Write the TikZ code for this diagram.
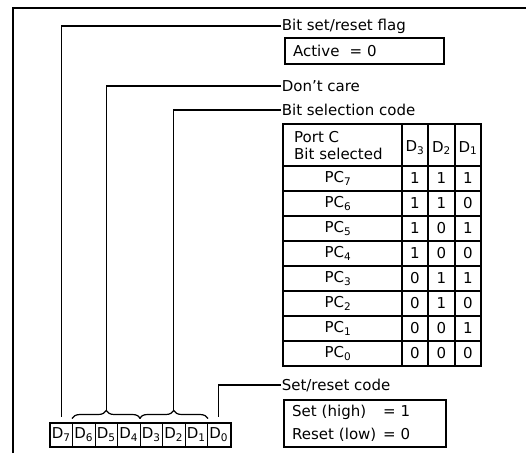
\documentclass[tikz,border=0pt]{standalone}
\usepackage{fontspec}
\setmainfont{DejaVu Sans}
\usepackage{tikz}
\usetikzlibrary{
  calc,
  decorations.pathreplacing
}
\tikzset{
  frame line/.style={
    line width=2.6pt
  },
  leader line/.style={
    line width=1.2pt
  },
  label text/.style={
    anchor=west,
    inner sep=0.6pt,
    font=\fontsize{15}{17}\selectfont
  },
  value box/.style={
    draw,
    line width=2.2pt,
    anchor=north west,
    inner xsep=8pt,
    inner ysep=0pt,
    align=left,
    font=\fontsize{15}{23}\selectfont
  },
  table rule/.style={
    line width=1.2pt
  },
  table border/.style={
    line width=2.4pt
  },
  table text/.style={
    inner sep=0pt,
    font=\fontsize{15}{17}\selectfont
  },
  bit cell/.style={
    draw,
    line width=1pt,
    minimum width=22.5pt,
    minimum height=23pt,
    inner sep=0pt,
    font=\fontsize{15}{15}\selectfont
  },
  code brace/.style={
    line width=1.2pt,
    decorate,
    decoration={brace, amplitude=8pt}
  }
}

\begin{document}
\begin{tikzpicture}[x=1pt,y=-1pt]

    \useasboundingbox (0,0) rectangle (526,453);

    % ---------- outer frame ----------
    \draw[frame line] (13,453) -- (13,8) -- (526,8);

    % ---------- labels ----------
    \node[label text] (flag) at (281,26) {Bit set/reset flag};
    \node[value box, text width=143pt, minimum height=26pt]
      (active) at (284,37) {Active\ \ = 0};

    \node[label text] (dontcare) at (281,86) {Don't care};
    \node[label text] (bitsel) at (281,110) {Bit selection code};
    \node[label text] (setreset) at (281,385) {Set/reset code};

    \node[value box, text width=146pt, minimum height=47pt]
      (srvalues) at (283,399)
      {\makebox[91pt][l]{Set (high)}= 1\\
       \makebox[91pt][l]{Reset (low)}= 0};

    % ---------- bit selection table ----------
    \foreach \x in {402,428,455}{
      \draw[table rule] (\x,124) -- (\x,366);
    }
    \foreach \y in {166,191,...,341}{
      \draw[table rule] (283,\y) -- (481,\y);
    }
    \draw[table border] (283,124) rectangle (481,366);

    \node[table text, anchor=west, align=left] (portc) at (294,146)
      {Port C\\Bit selected};
    \node[table text] (hd3) at (415,148) {D\textsubscript{3}};
    \node[table text] (hd2) at (441.5,148) {D\textsubscript{2}};
    \node[table text] (hd1) at (468,148) {D\textsubscript{1}};

    % rows: bit, D3, D2, D1
    \foreach \n/\a/\b/\c [count=\r from 0] in {
      7/1/1/1, 6/1/1/0, 5/1/0/1, 4/1/0/0,
      3/0/1/1, 2/0/1/0, 1/0/0/1, 0/0/0/0
    }{
      \node[table text] (pc\n) at (338,178.5+25*\r) {PC\textsubscript{\n}};
      \node[table text] (pc\n-d3) at (415,178.5+25*\r) {\a};
      \node[table text] (pc\n-d2) at (441.5,178.5+25*\r) {\b};
      \node[table text] (pc\n-d1) at (468,178.5+25*\r) {\c};
    }

    % ---------- control word ----------
    \foreach \i in {7,...,0}{
      \node[bit cell] (d\i) at ({61.25+(7-\i)*22.5},434.5) {D\textsubscript{\i}};
    }
    \draw[line width=2pt] (d7.north west) rectangle (d0.south east);

    % braces over the grouped bits
    \draw[code brace] ([yshift=4pt]d6.north west) -- ([yshift=4pt]d4.north east);
    \draw[code brace] ([yshift=4pt]d3.north west) -- ([yshift=4pt]d1.north east);

    \coordinate (dc tip) at ($(d6.north west)!0.5!(d4.north east)+(0,-12)$);
    \coordinate (bs tip) at ($(d3.north west)!0.5!(d1.north east)+(0,-12)$);

    % ---------- leader lines ----------
    \draw[leader line] ([yshift=6pt]d7.north) |- (flag.west);
    \draw[leader line] (dc tip) |- (dontcare.west);
    \draw[leader line] (bs tip) |- (bitsel.west);
    \draw[leader line] ([yshift=6pt]d0.north) |- (setreset.west);

  \end{tikzpicture}
\end{document}
